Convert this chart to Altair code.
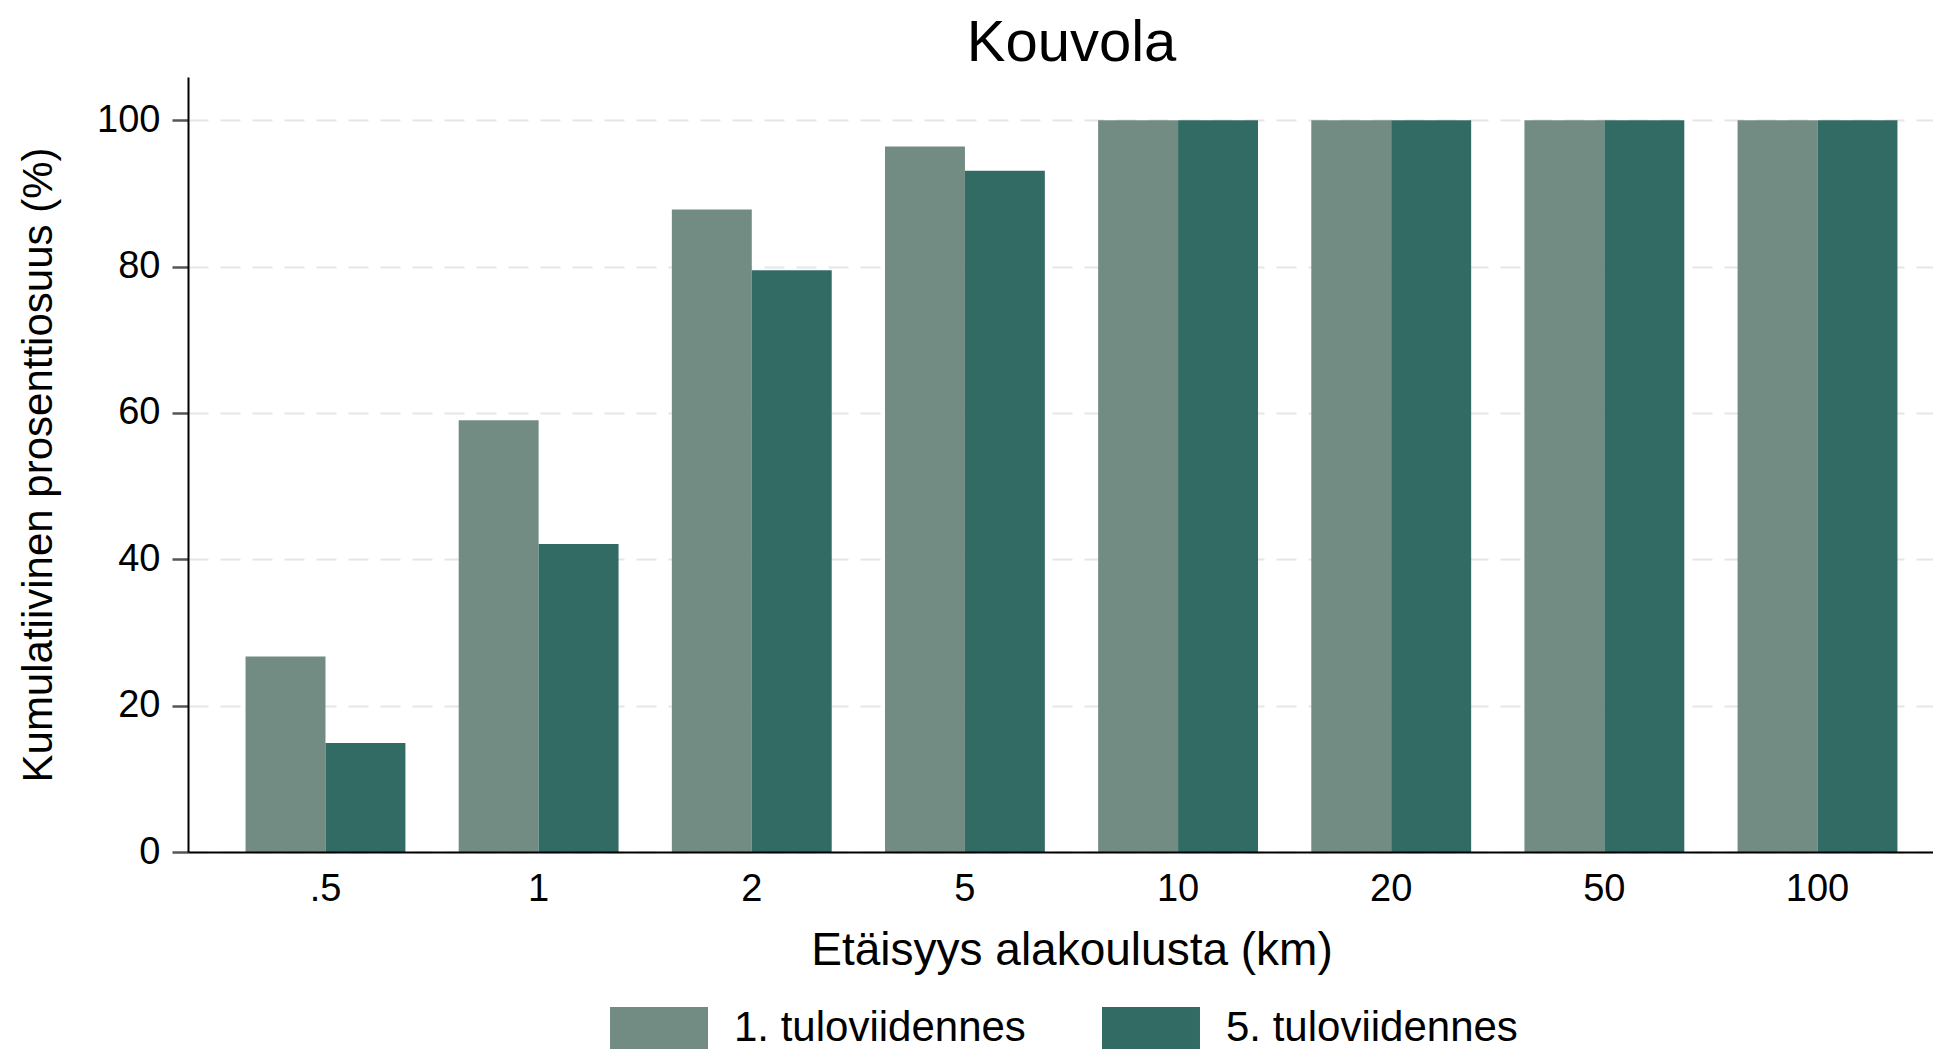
import altair as alt
import pandas as pd

# ---- data ----
distances = [".5", "1", "2", "5", "10", "20", "50", "100"]
q1_values = [26.7, 59.0, 87.8, 96.4, 100, 100, 100, 100]
q5_values = [14.9, 42.1, 79.5, 93.1, 100, 100, 100, 100]
groups = ["1. tuloviidennes", "5. tuloviidennes"]
colors = ["#728b83", "#326b64"]
y_ticks = [0, 20, 40, 60, 80, 100]

rows = []
for d, a, b in zip(distances, q1_values, q5_values):
    rows.append({"dist": d, "group": groups[0], "value": a})
    rows.append({"dist": d, "group": groups[1], "value": b})
df = pd.DataFrame(rows)

FONT = "Liberation Sans"

chart = alt.Chart(df).mark_bar().encode(
    x=alt.X(
        "dist:N",
        sort=distances,
        title="Etäisyys alakoulusta (km)",
        scale=alt.Scale(range=[0, 1767], paddingInner=0.25, paddingOuter=0.27),
        axis=alt.Axis(
            labelAngle=0, ticks=False, grid=False,
            domainColor="black", domainWidth=2,
            labelFontSize=38, labelPadding=18, labelColor="black",
            titleFontSize=46, titlePadding=20, titleColor="black",
            titleFontWeight="normal", zindex=1,
        ),
    ),
    xOffset=alt.XOffset("group:N", sort=groups,
                        scale=alt.Scale(paddingInner=0, paddingOuter=0)),
    y=alt.Y(
        "value:Q",
        title="Kumulatiivinen prosenttiosuus (%)",
        scale=alt.Scale(domain=[0, 105.9], nice=False),
        axis=alt.Axis(
            values=y_ticks,
            domainColor="black", domainWidth=2,
            tickColor="#555555", tickWidth=2.5, tickSize=16,
            labelFontSize=38, labelPadding=12, labelColor="black",
            titleFontSize=42, titlePadding=36, titleColor="black",
            titleFontWeight="normal",
            grid=True, gridColor="#e6e6e6", gridDash=[20, 12], gridWidth=2,
            zindex=0,
        ),
    ),
    color=alt.Color(
        "group:N",
        sort=groups,
        scale=alt.Scale(domain=groups, range=colors),
        legend=alt.Legend(
            title=None, orient="none", legendX=450, legendY=930,
            direction="horizontal",
            symbolType="M-2.333,-1H2.333V1H-2.333Z", symbolSize=1764,
            symbolStrokeWidth=0, symbolOpacity=1,
            labelFontSize=42, labelOffset=54, labelColor="black", labelLimit=1000,
            columnPadding=76, padding=0,
        ),
    ),
).properties(
    width=1745,
    height=775,
    title=alt.TitleParams("Kouvola", fontSize=58, fontWeight="normal",
                          anchor="middle", offset=4, color="black", dx=11),
    padding={"left": 180, "top": 69, "right": 0, "bottom": 197},
    autosize=alt.AutoSizeParams(type="none"),
).configure(font=FONT).configure_view(stroke=None)

chart.save("out.html", embed_options={"renderer": "svg", "actions": False})
